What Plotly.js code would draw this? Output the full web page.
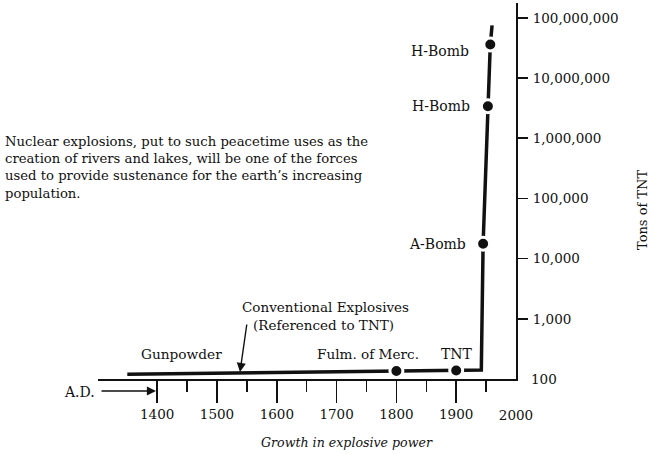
<!DOCTYPE html>
<html><head><meta charset="utf-8">
<script src="https://cdn.plot.ly/plotly-3.0.1.min.js"></script>
<style>html,body{margin:0;padding:0;background:#fff}</style>
</head><body><div id="chart" style="width:650px;height:454px"></div>
<script>
// ---- data ----
const years = [1350, 1800, 1900, 1942, 1945, 1953, 1957, 1960];
const tons = [120, 136, 138, 141, 17700, 3400000, 36000000, 75000000];
const eventYears = [1800, 1900, 1945, 1953, 1957];
const eventTons = [136, 138, 17700, 3400000, 36000000];
const eventLabels = ['Fulm. of Merc.', 'TNT', 'A-Bomb', 'H-Bomb', 'H-Bomb'];
const xTickVals = [1400, 1500, 1600, 1700, 1800, 1900];
const xMinorVals = [1450, 1550, 1650, 1750, 1850, 1950];
const xEndTick = [2000];
const yTickVals = [1e3, 1e4, 1e5, 1e6, 1e7, 1e8];
const yTickText = ['1,000', '10,000', '100,000', '1,000,000', '10,000,000', '100,000,000'];
const yBaseTick = [100];
const yBaseText = ['100'];
const noteLines = [
  'Nuclear explosions, put to such peacetime uses as the',
  'creation of rivers and lakes, will be one of the forces',
  'used to provide sustenance for the earth\u2019s increasing',
  'population.'
];
const xTitle = 'Growth in explosive power';
const yTitle = 'Tons of TNT';

// ---- layout helpers ----
const W = 650, H = 454, L = 98, R = 516, T = 3, B = 379;
const px = x => (x - L) / (R - L);
const py = y => (B - y) / (B - T);
const FONT = 'DejaVu Serif, Liberation Serif, serif';
const INK = '#111';
const XR = [1301, 2000], YR = [2, 8.246];

const eventStyle = [
  {xanchor: 'center', xshift: -28, yshift: 17, size: 13.6},
  {xanchor: 'center', xshift: 1, yshift: 17, size: 14},
  {xanchor: 'right', xshift: -15, yshift: 0, size: 14},
  {xanchor: 'right', xshift: -16, yshift: 0, size: 14},
  {xanchor: 'right', xshift: -19, yshift: -6, size: 14}
];

const traces = [
  {x: years, y: tons, type: 'scatter', mode: 'lines', xaxis: 'x', yaxis: 'y',
   line: {color: INK, width: 3.5}, hoverinfo: 'skip', cliponaxis: false},
  {x: eventYears, y: eventTons, type: 'scatter', mode: 'markers', xaxis: 'x2', yaxis: 'y2',
   marker: {color: INK, size: 13, line: {color: '#fff', width: 3}},
   hoverinfo: 'skip', cliponaxis: false}
];

const annotations = [];
eventLabels.forEach((t, i) => {
  const s = eventStyle[i];
  annotations.push({
    x: eventYears[i], y: Math.log10(eventTons[i]), xref: 'x', yref: 'y',
    text: t, showarrow: false, yanchor: 'middle',
    xanchor: s.xanchor, xshift: s.xshift, yshift: s.yshift,
    font: {family: FONT, size: s.size, color: INK}
  });
});
const freeText = [
  {text: 'Gunpowder', x: 181, y: 354, xanchor: 'center', size: 13.7},
  {text: 'Conventional Explosives', x: 325, y: 307, xanchor: 'center', size: 13.5},
  {text: '(Referenced to TNT)', x: 323, y: 324.5, xanchor: 'center', size: 13.5},
  {text: 'A.D.', x: 79, y: 392, xanchor: 'center', size: 14},
  {text: '<i>' + xTitle + '</i>', x: 347, y: 442, xanchor: 'center', size: 12.6}
];
noteLines.forEach((t, i) => freeText.push({text: t, x: 3, y: 141 + i * 17.4, xanchor: 'left', size: 13.2}));
freeText.forEach(a => annotations.push({
  xref: 'paper', yref: 'paper', x: px(a.x), y: py(a.y), xanchor: a.xanchor, yanchor: 'middle',
  text: a.text, showarrow: false, font: {family: FONT, size: a.size, color: INK}
}));
// y-axis title (placed as rotated text, off-centre like the original)
annotations.push({xref: 'paper', yref: 'paper', x: px(643), y: py(210), xanchor: 'center', yanchor: 'middle',
  text: yTitle, textangle: -90, showarrow: false, font: {family: FONT, size: 13, color: INK}});
// arrows
annotations.push({xref: 'paper', yref: 'paper', x: px(240), y: py(372), ax: 7, ay: -49,
  text: '', showarrow: true, arrowhead: 2, arrowsize: 1.3, arrowwidth: 1.4, arrowcolor: INK});
annotations.push({xref: 'paper', yref: 'paper', x: px(156), y: py(391), ax: -56, ay: 0,
  text: '', showarrow: true, arrowhead: 2, arrowsize: 1.3, arrowwidth: 1.4, arrowcolor: INK});

const tf = {family: FONT, size: 13.5, color: INK};
const layout = {
  width: W, height: H,
  margin: {l: L, r: W - R, t: T, b: H - B, pad: 0},
  paper_bgcolor: '#fff', plot_bgcolor: 'rgba(0,0,0,0)',
  showlegend: false,
  font: {family: FONT, size: 14, color: INK},
  xaxis: {
    range: XR, showgrid: false, zeroline: false,
    showline: true, linecolor: INK, linewidth: 2,
    tickmode: 'array', tickvals: xTickVals, ticktext: xTickVals.map(String),
    ticks: 'outside', ticklen: 22, tickwidth: 1.5, tickcolor: INK,
    tickfont: tf,
    minor: {tickmode: 'array', tickvals: xMinorVals, ticks: 'outside', ticklen: 11, tickwidth: 1.5, tickcolor: INK, showgrid: false},
    fixedrange: true
  },
  xaxis2: {
    overlaying: 'x', anchor: 'y2', side: 'bottom', range: XR,
    showgrid: false, zeroline: false, showline: false, ticks: '',
    tickmode: 'array', tickvals: xEndTick, ticktext: xEndTick.map(String),
    ticklabelstandoff: 26, tickfont: tf, fixedrange: true
  },
  yaxis: {
    type: 'log', range: YR, side: 'right', showgrid: false, zeroline: false,
    showline: true, linecolor: INK, linewidth: 2,
    tickmode: 'array', tickvals: yTickVals, ticktext: yTickText,
    ticks: 'outside', ticklen: 10, tickwidth: 1.5, tickcolor: INK,
    ticklabelstandoff: 2, tickfont: tf, fixedrange: true
  },
  yaxis2: {
    type: 'log', overlaying: 'y', anchor: 'x2', side: 'right', range: YR,
    showgrid: false, zeroline: false, showline: false, ticks: '',
    tickmode: 'array', tickvals: yBaseTick, ticktext: yBaseText,
    ticklabelstandoff: 14, tickfont: tf, fixedrange: true
  },
  annotations: annotations
};

Plotly.newPlot('chart', traces, layout, {displayModeBar: false, staticPlot: true});
</script>
</body></html>
